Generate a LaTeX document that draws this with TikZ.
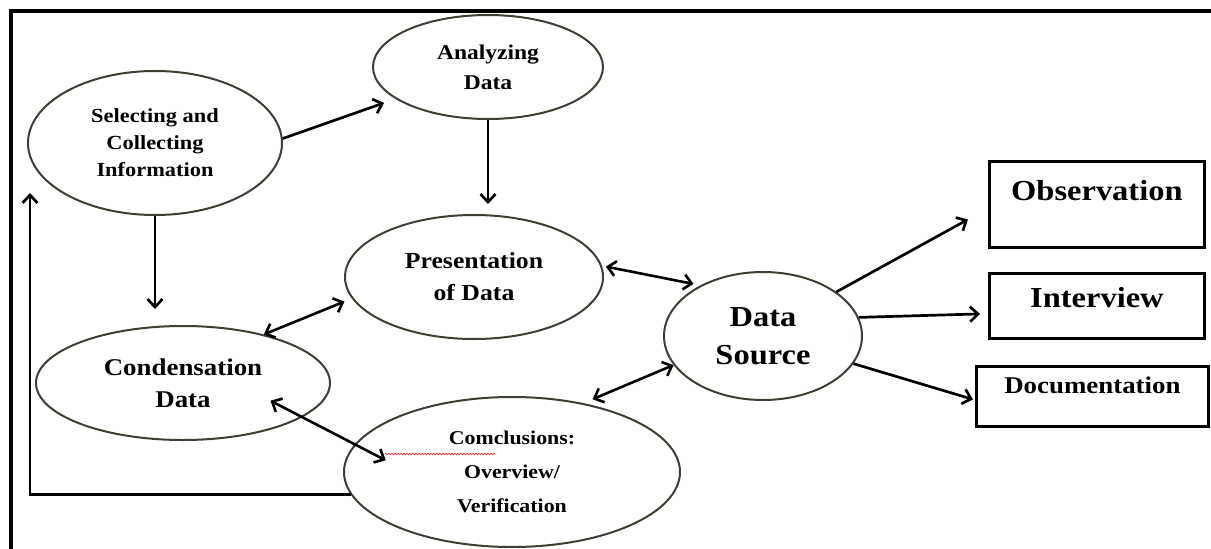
\documentclass[tikz,border=0pt]{standalone}
\usepackage{fontspec}
\setmainfont{Liberation Serif}[FakeStretch=1.12]
\usepackage{tikz}
\usetikzlibrary{shapes.geometric,arrows.meta,decorations.pathmorphing}
\definecolor{rim}{RGB}{62,62,50}
\tikzstyle{stage}=[draw=rim, ellipse, line width=2pt, inner sep=0pt, align=center]
\tikzstyle{sourcebox}=[draw, rectangle, line width=2.8pt, inner sep=0pt, anchor=north west]
\tikzstyle{flow}=[line width=2.7pt, -{Straight Barb[length=8pt,width=15pt]}]
\tikzstyle{twoway}=[line width=2.6pt, {Straight Barb[length=8pt,width=15pt]}-{Straight Barb[length=8pt,width=15pt]}]

\begin{document}
\begin{tikzpicture}[x=1pt, y=-1pt]
    \useasboundingbox (0,0) rectangle (1211,549);
    % outer frame, cut off at the right and at the bottom
    \draw[line width=3.5pt] (11,549) -- (11,11) -- (1211,11);

    % Place the stages of the analysis
    \node[stage, minimum width=254pt, minimum height=144pt, font=\bfseries\fontsize{20}{27}\selectfont] (sel) at (155,143) {Selecting and\\Collecting\\Information};
    \node[stage, minimum width=230pt, minimum height=104pt, font=\bfseries\fontsize{21}{30}\selectfont] (ana) at (488,67) {Analyzing\\Data};
    \node[stage, minimum width=258pt, minimum height=124pt, font=\bfseries\fontsize{23}{32}\selectfont] (pres) at (474,277) {Presentation\\of Data};
    \node[stage, minimum width=294pt, minimum height=114pt, font=\bfseries\fontsize{24}{32}\selectfont] (cond) at (183,383) {Condensation\\Data};
    \node[stage, minimum width=336pt, minimum height=150pt, font=\bfseries\fontsize{19.5}{34}\selectfont] (concl) at (512,472) {Comclusions:\\Overview/\\Verification};
    \node[stage, minimum width=198pt, minimum height=128pt, font=\bfseries\fontsize{29}{38}\selectfont] (src) at (763,336) {Data\\Source};

    % Place the sources
    \node[sourcebox, minimum width=215pt, text height=39pt, text depth=47pt, font=\bfseries\fontsize{29}{34}\selectfont] (obs) at (988,160) {Observation};
    \node[sourcebox, minimum width=215pt, text height=34pt, text depth=31pt, font=\bfseries\fontsize{29}{34}\selectfont] (int) at (988,272) {Interview};
    \node[sourcebox, minimum width=232pt, text height=27pt, text depth=33pt, font=\bfseries\fontsize{24}{30}\selectfont] (doc) at (975,365) {Documentation};

    % spelling mark under the first word
    \draw[red!80, line width=0.7pt, decorate, decoration={snake, amplitude=0.8pt, segment length=3pt}] ([shift={(-127pt,18pt)}]concl.center) -- ++(110,0);

    \path[flow] (sel.2) edge[shorten >=12pt] (ana.199);
    \path[flow] (ana.south) edge[shorten >=10pt] (ana.south |- pres.north);
    \path[flow] (sel.south) edge[shorten >=16pt] (sel.south |- cond.north);

    \path[twoway] (cond.31) edge[shorten >=8pt] (pres.190);
    \path[twoway] (pres.5) edge[shorten <=4pt, shorten >=7pt] (src.141);
    \path[twoway] (concl.44) edge[shorten <=10pt] (src.198);
    \path[twoway] (cond.-16) edge[shorten <=-36pt, shorten >=-35pt] (concl.170);

    \path[flow] (src.31) edge ([xshift=-20pt,yshift=-15pt]obs.west);
    \path[flow] (src.11) edge ([xshift=-8pt,yshift=-8pt]int.west);
    \path[flow] (src.-17) edge ([xshift=-2pt,yshift=-3pt]doc.west);

    % back to the start
    \coordinate (loopend) at (30,193);
    \draw[flow] (concl.188) -| (loopend);
\end{tikzpicture}
\end{document}
